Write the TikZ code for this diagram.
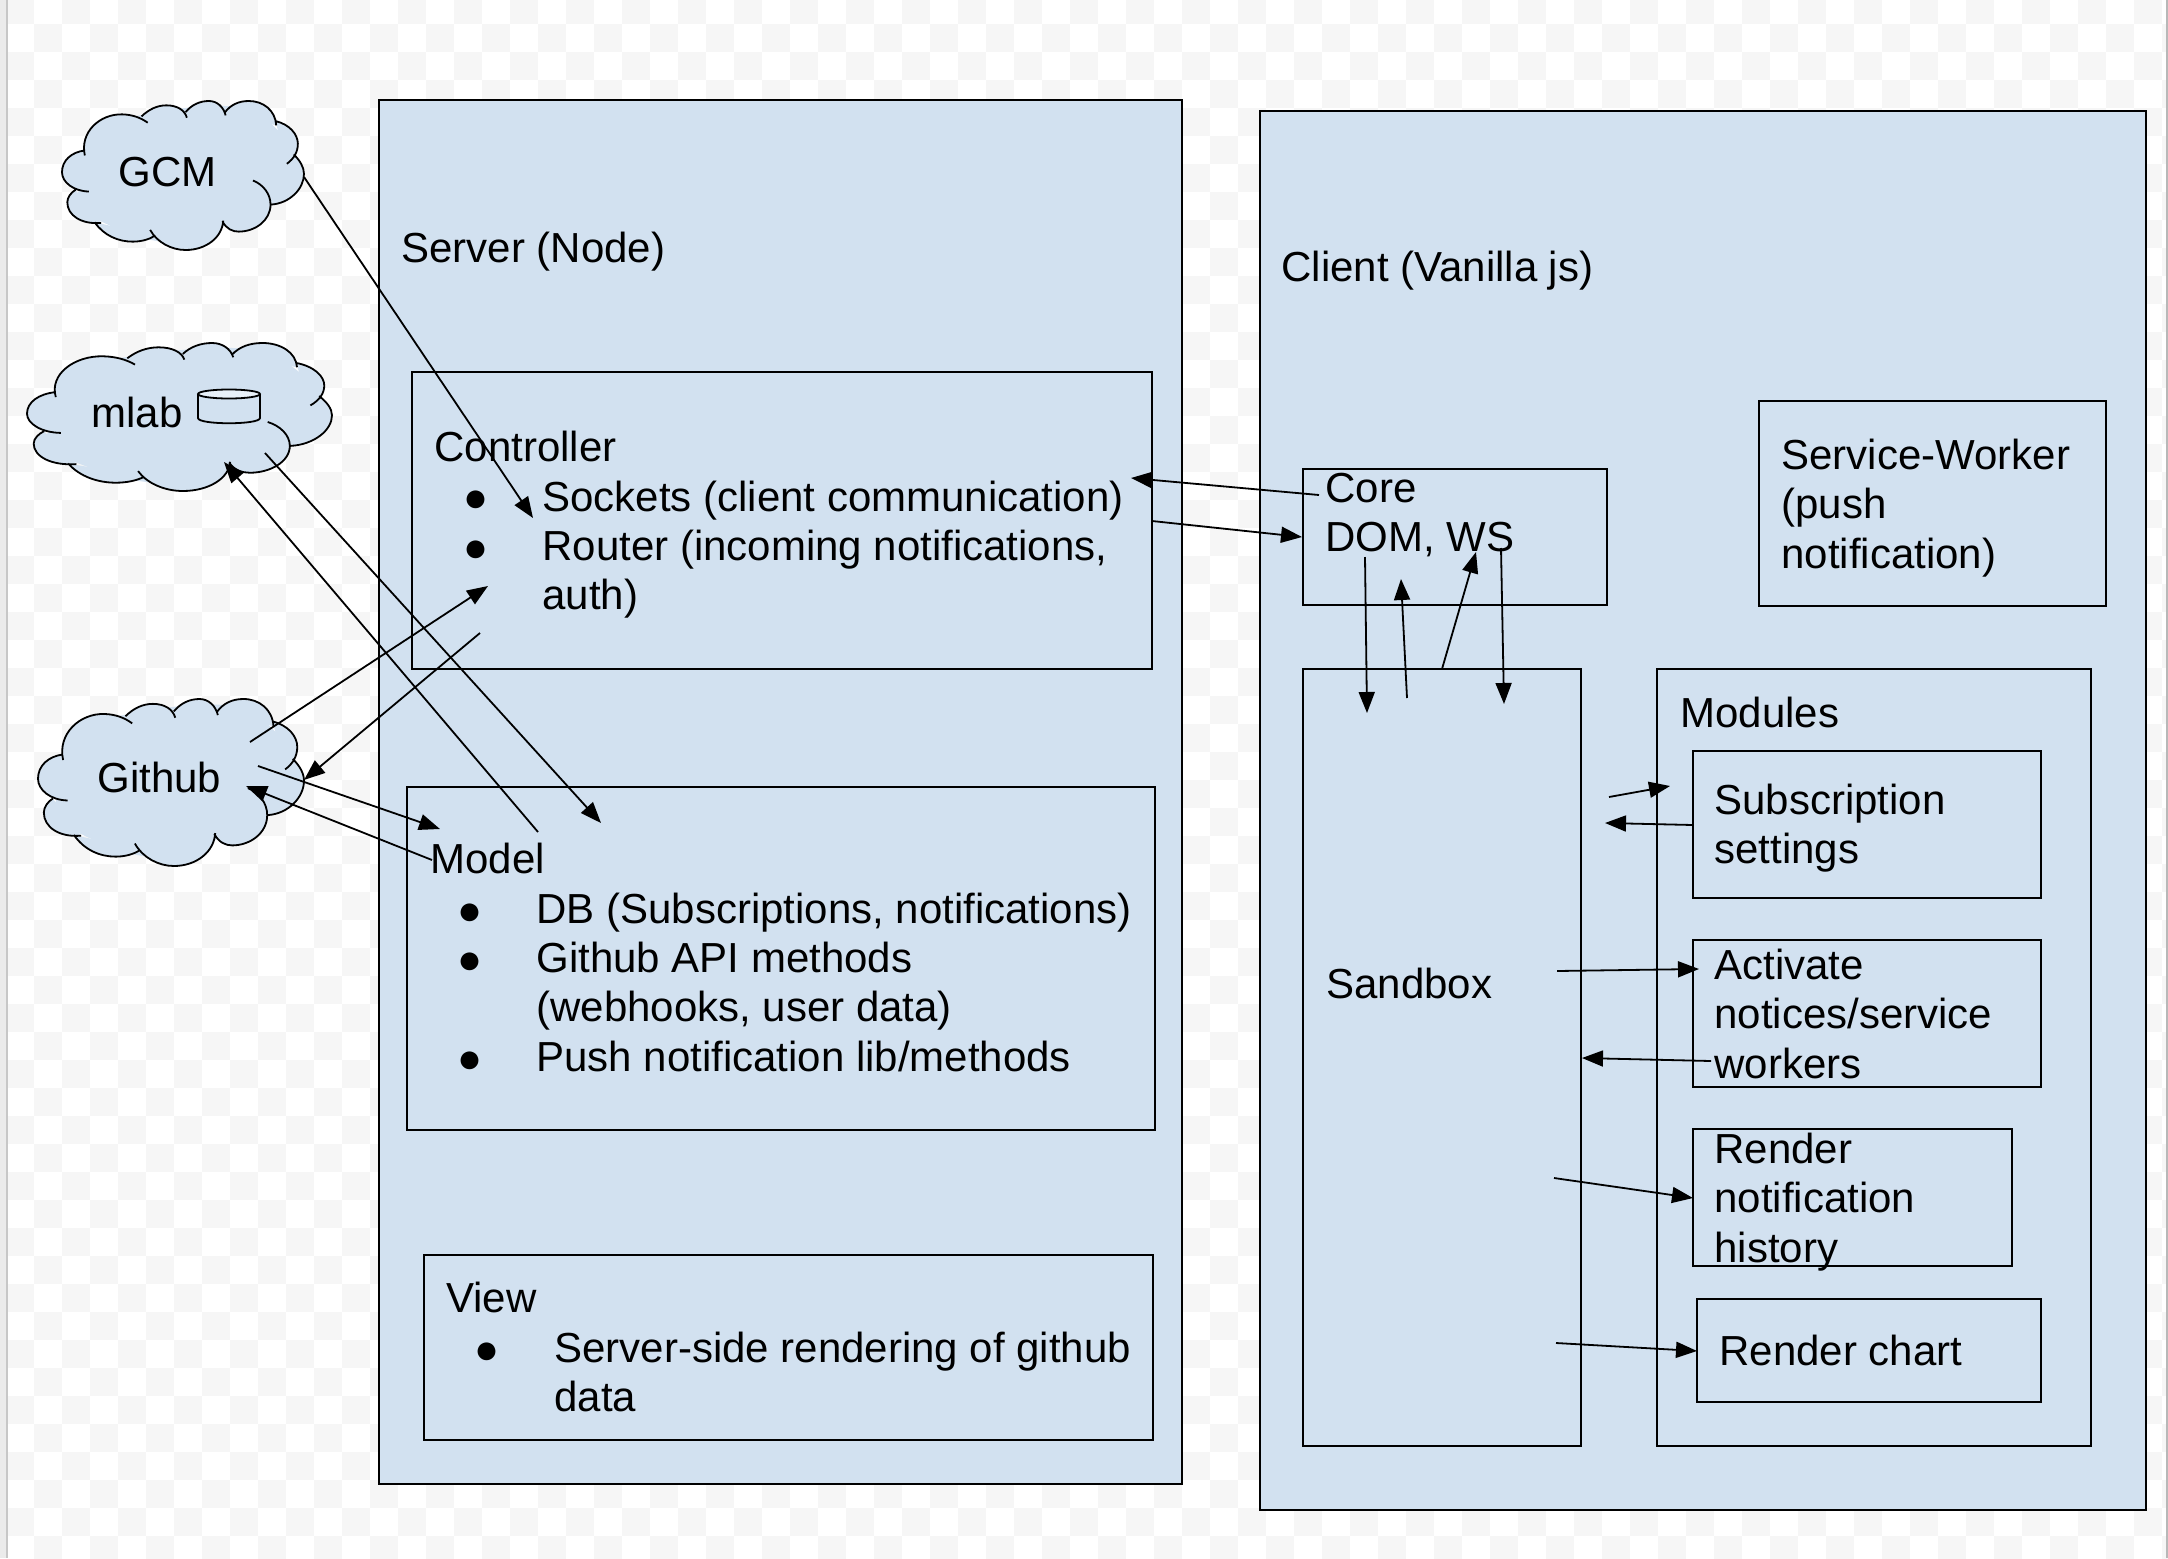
\documentclass[tikz,border=0pt]{standalone}
\usepackage{fontspec}
\setmainfont{Liberation Sans}
\usepackage{tikz}
\usetikzlibrary{arrows.meta}
\definecolor{boxblue}{HTML}{D2E1F0}
\definecolor{checkgrey}{HTML}{F6F6F6}
\tikzset{>={Triangle[length=10.5pt,width=8pt]}}
\tikzset{
    panel/.style={draw=black, fill=boxblue, line width=0.9pt, anchor=north west, inner sep=0pt, outer sep=0pt},
    label/.style={anchor=base west, inner sep=0pt, font=\fontsize{21}{24.95}\selectfont},
    dot/.style={anchor=base, inner sep=0pt, font=\fontsize{20.7}{25}\selectfont},
    link/.style={->, line width=0.9pt}
}
\newcommand{\stacked}[1]{\begin{tabular}[t]{@{}l@{}}#1\end{tabular}}
\newcommand{\cloudshape}[4]{%
    \begin{scope}[shift={(#1,#2)}, xscale=#3/593, yscale=#4/446, shift={(-152,-122)}]
        \fill[boxblue] (190,335) -- (205,290) -- (250,200) -- (300,175) -- (405,150) -- (510,135) -- (610,140)
            -- (665,190) -- (715,250) -- (730,340) -- (700,400) -- (650,440) -- (615,485) -- (560,490)
            -- (455,555) -- (330,530) -- (240,478) -- (180,430) -- (195,385) -- cycle;
        \filldraw[draw=black, fill=boxblue, line width=0.9pt]
            (208,285) .. controls (195,215) and (245,160) .. (300,162) .. controls (325,163) and (345,172) .. (362,187)
            (347,168) .. controls (365,147) and (385,135) .. (408,135) .. controls (435,135) and (453,150) .. (458,172)
            (455,155) .. controls (470,133) and (490,122) .. (512,122) .. controls (532,122) and (548,140) .. (553,165)
            (550,158) .. controls (565,133) and (585,122) .. (610,122) .. controls (645,122) and (675,150) .. (677,195)
            (675,182) .. controls (710,192) and (730,222) .. (730,250) .. controls (730,275) and (720,295) .. (703,310)
            (720,282) .. controls (735,300) and (745,320) .. (745,340) .. controls (745,385) and (710,428) .. (665,432)
            (620,360) .. controls (645,372) and (663,400) .. (663,432) .. controls (663,480) and (625,513) .. (585,513) .. controls (570,513) and (555,505) .. (545,482)
            (547,480) .. controls (545,530) and (505,568) .. (455,568) .. controls (420,568) and (385,545) .. (368,508)
            (380,525) .. controls (365,537) and (345,543) .. (325,543) .. controls (290,543) and (255,525) .. (232,485)
            (248,487) .. controls (200,492) and (165,465) .. (165,425) .. controls (165,410) and (175,395) .. (185,388)
            (218,393) .. controls (180,392) and (152,365) .. (152,335) .. controls (152,300) and (175,275) .. (208,270);
    \end{scope}}

\begin{document}
\begin{tikzpicture}[x=0.5pt, y=-0.5pt]
    \useasboundingbox (0,0) rectangle (2168,1558);

    % page background
    \begin{scope}
        \clip (0,0) rectangle (2168,1558);
        \foreach \i in {0,...,77}
            \foreach \j in {0,...,56}
                {\ifodd\numexpr\i+\j\relax\else
                    \fill[checkgrey] ({6+28*\i},{-4+28*\j}) rectangle ({34+28*\i},{24+28*\j});
                \fi}
    \end{scope}
    \fill[black!8] (0,0) rectangle (6,1558);
    \fill[black!22] (6,0) rectangle (8,1558);
    \fill[black!28] (2166,0) rectangle (2168,1558);

    % clouds
    \cloudshape{62}{101}{242}{149}
    \cloudshape{27}{343}{305}{148}
    \cloudshape{38}{699}{266}{167}
    \node[label] (gcm) at (118,186) {GCM};
    \node[label] (mlab) at (91,427) {mlab};
    \node[label] (github) at (97,792) {Github};
    \draw[fill=boxblue, line width=0.9pt] (198,394) -- (198,418) .. controls (198,425) and (260,425) .. (260,418) -- (260,394);
    \draw[fill=boxblue!50!white, line width=0.9pt] (229,394) ellipse [x radius=31, y radius=4.5];

    % server
    \node[panel, minimum width=401.5pt, minimum height=692pt] (server) at (379,100) {};
    \node[label] (servertitle) at (401,262) {Server (Node)};

    \node[panel, minimum width=370pt, minimum height=148.5pt] (controller) at (412,372) {};
    \node[label] (controllertext) at (434,461) {Controller};
    \node[dot] (ctrldota) at (476,511) {●};
    \node[dot] (ctrldotb) at (476,561) {●};
    \node[label] (ctrlitema) at (542,511) {Sockets (client communication)};
    \node[label] (ctrlitemb) at (542,560) {\stacked{Router (incoming notifications,\\auth)}};

    \node[panel, minimum width=374pt, minimum height=171.5pt] (model) at (407,787) {};
    \node[label] (modeltext) at (430,873) {Model};
    \node[dot] (modeldota) at (470,924) {●};
    \node[dot] (modeldotb) at (470,973) {●};
    \node[dot] (modeldotc) at (470,1072) {●};
    \node[label] (modelitema) at (536,923) {DB (Subscriptions, notifications)};
    \node[label] (modelitemb) at (536,972) {\stacked{Github API methods\\(webhooks, user data)}};
    \node[label] (modelitemc) at (536,1071) {Push notification lib/methods};

    \node[panel, minimum width=364.5pt, minimum height=92.5pt] (view) at (424,1255) {};
    \node[label] (viewtext) at (446,1312) {View};
    \node[dot] (viewdot) at (487,1363) {●};
    \node[label] (viewitem) at (554,1362) {\stacked{Server-side rendering of github\\data}};

    % client
    \node[panel, minimum width=443pt, minimum height=699.5pt] (client) at (1260,111) {};
    \node[label] (clienttitle) at (1281,281) {Client (Vanilla js)};

    \node[panel, minimum width=152pt, minimum height=68pt] (core) at (1303,469) {};
    \node[label] (coretext) at (1325,502) {\stacked{Core\\DOM, WS}};

    \node[panel, minimum width=173.5pt, minimum height=102.5pt] (worker) at (1759,401) {};
    \node[label] (workertext) at (1781,469) {\stacked{Service-Worker\\(push\\notification)}};

    \node[panel, minimum width=139pt, minimum height=388.5pt] (sandbox) at (1303,669) {};
    \node[label] (sandboxtext) at (1326,998) {Sandbox};

    \node[panel, minimum width=217pt, minimum height=388.5pt] (modules) at (1657,669) {};
    \node[label] (modulestext) at (1680,727) {Modules};

    \node[panel, minimum width=174pt, minimum height=73.5pt] (subscription) at (1693,751) {};
    \node[label] (subscriptiontext) at (1714,814) {\stacked{Subscription\\settings}};
    \node[panel, minimum width=174pt, minimum height=73.5pt] (activate) at (1693,940) {};
    \node[label] (activatetext) at (1714,979) {\stacked{Activate\\notices/service\\workers}};
    \node[panel, minimum width=159.5pt, minimum height=68.5pt] (history) at (1693,1129) {};
    \node[label] (historytext) at (1714,1163) {\stacked{Render\\notification\\history}};
    \node[panel, minimum width=172pt, minimum height=51.5pt] (chart) at (1697,1299) {};
    \node[label] (charttext) at (1719,1365) {Render chart};

    % connector ends
    \coordinate (gcmout) at (304,177);
    \coordinate (ctrlgcm) at (533,518);
    \coordinate (mlabin) at (224,462);
    \coordinate (modelmlab) at (538,832);
    \coordinate (mlabout) at (265,453);
    \coordinate (mlabmodel) at (601,823);
    \coordinate (gitoutctrl) at (250,742);
    \coordinate (ctrlgit) at (488,586);
    \coordinate (ctrloutgit) at (480,633);
    \coordinate (gitinctrl) at (304,780);
    \coordinate (gitoutmodel) at (258,766);
    \coordinate (modelgit) at (440,829);
    \coordinate (modeloutgit) at (432,860);
    \coordinate (gitinmodel) at (246,786);
    \coordinate (coreoutctrl) at (1319,495);
    \coordinate (ctrlcore) at (1131,478);
    \coordinate (ctrloutcore) at (1152,521);
    \coordinate (corectrl) at (1302,537);
    \coordinate (coreouta) at (1365,557);
    \coordinate (sandboxa) at (1367,713);
    \coordinate (sandboxouta) at (1407,698);
    \coordinate (corea) at (1401,579);
    \coordinate (sandboxoutb) at (1442,669);
    \coordinate (coreb) at (1476,552);
    \coordinate (coreoutb) at (1501,548);
    \coordinate (sandboxb) at (1504,704);
    \coordinate (sandboxsub) at (1609,797);
    \coordinate (subin) at (1670,786);
    \coordinate (subout) at (1693,825);
    \coordinate (sandboxsubin) at (1605,823);
    \coordinate (sandboxact) at (1557,971);
    \coordinate (actin) at (1699,969);
    \coordinate (actout) at (1711,1061);
    \coordinate (sandboxactin) at (1582,1058);
    \coordinate (sandboxhist) at (1554,1178);
    \coordinate (histin) at (1693,1198);
    \coordinate (sandboxchart) at (1556,1343);
    \coordinate (chartin) at (1697,1351);

    % connectors
    \draw[link] (gcmout) -- (ctrlgcm);
    \draw[link] (modelmlab) -- (mlabin);
    \draw[link] (mlabout) -- (mlabmodel);
    \draw[link] (gitoutctrl) -- (ctrlgit);
    \draw[link] (ctrloutgit) -- (gitinctrl);
    \draw[link] (gitoutmodel) -- (modelgit);
    \draw[link] (modeloutgit) -- (gitinmodel);
    \draw[link] (coreoutctrl) -- (ctrlcore);
    \draw[link] (ctrloutcore) -- (corectrl);
    \draw[link] (coreouta) -- (sandboxa);
    \draw[link] (sandboxouta) -- (corea);
    \draw[link] (sandboxoutb) -- (coreb);
    \draw[link] (coreoutb) -- (sandboxb);
    \draw[link] (sandboxsub) -- (subin);
    \draw[link] (subout) -- (sandboxsubin);
    \draw[link] (sandboxact) -- (actin);
    \draw[link] (actout) -- (sandboxactin);
    \draw[link] (sandboxhist) -- (histin);
    \draw[link] (sandboxchart) -- (chartin);
\end{tikzpicture}
\end{document}
